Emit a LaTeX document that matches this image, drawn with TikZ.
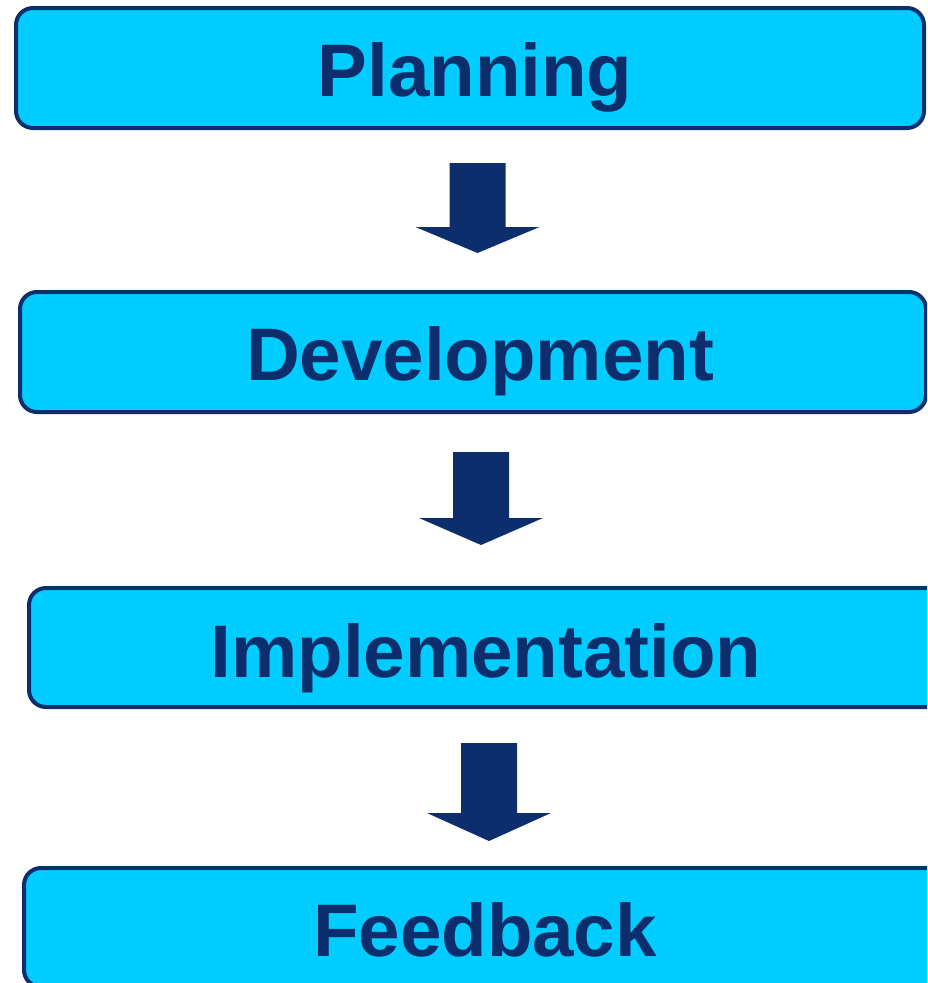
\documentclass[tikz,border=0pt]{standalone}
\usepackage{fontspec}
\setmainfont{Liberation Sans}
\definecolor{navy}{HTML}{0C2E6C}
\definecolor{boxfill}{HTML}{00CCFF}
\tikzset{
  stagebox/.style={draw=navy, fill=boxfill, line width=4pt, rounded corners=17pt, inner sep=0pt},
  stagetext/.style={anchor=base, text=navy, inner sep=0pt, font=\fontsize{74.5}{80}\selectfont\bfseries},
  blockarrow/.style={fill=navy, draw=none}
}
\newcommand{\myblockarrow}[4]{% cx, top, head y, tip
  \fill[blockarrow] (#1-28,#2) -- (#1+28,#2) -- (#1+28,#3) -- (#1+62,#3) -- (#1,#4) -- (#1-62,#3) -- (#1-28,#3) -- cycle;
}
\begin{document}
\begin{tikzpicture}[x=1pt,y=-1pt]
\useasboundingbox (0,0) rectangle (927,983);
\clip (0,0) rectangle (927,983);
\node[stagebox, minimum width=908pt, minimum height=120pt] (plan) at (470,68) {};
\node[stagebox, minimum width=906pt, minimum height=120pt] (dev) at (473,352) {};
\node[stagebox, minimum width=940pt, minimum height=119pt] (impl) at (499,647.5) {};
\node[stagebox, minimum width=940pt, minimum height=119pt] (feed) at (494,927.5) {};
\node[stagetext] (plant) at (475,96) {Planning};
\node[stagetext] (devt) at (480,380) {Development};
\node[stagetext] (implt) at (486,677) {Implementation};
\node[stagetext] (feedt) at (485,956) {Feedback};
\myblockarrow{477.5}{163}{227}{253}
\myblockarrow{481}{452}{518}{545}
\myblockarrow{489}{743}{813}{841}
\end{tikzpicture}
\end{document}
